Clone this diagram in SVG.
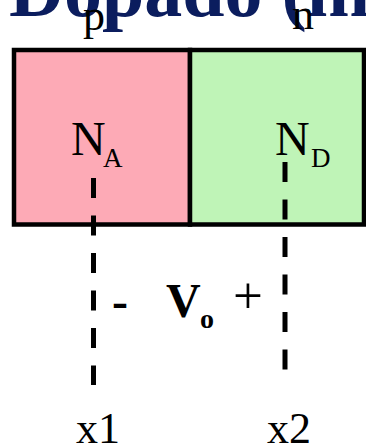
<svg xmlns="http://www.w3.org/2000/svg" width="366" height="448" viewBox="0 0 366 448">
<style>
.t{font-family:"Liberation Serif","Times New Roman",serif;fill:#000}
.b{font-weight:bold}
.dash{stroke:#000;stroke-width:5;stroke-dasharray:20 17.5;fill:none}
.box{stroke:#000;stroke-width:4.5}
</style>
<rect width="366" height="448" fill="#fff"/>
<g id="title">
<text class="t b" x="9" y="16" font-size="76" style="fill:#0b1d5e">Dopado (m</text>
</g>
<g id="p-region">
<rect class="box" x="14" y="50" width="176" height="174.5" fill="#fdaab6"/>
<text class="t" x="83" y="30" font-size="44">p</text>
<text class="t" x="71" y="155" font-size="48">N</text>
<text class="t" x="103" y="167" font-size="27">A</text>
</g>
<g id="n-region">
<rect class="box" x="190" y="50" width="174" height="174.5" fill="#bff4b7"/>
<text class="t" x="292" y="29" font-size="44">n</text>
<text class="t" x="275" y="155" font-size="48">N</text>
<text class="t" x="311" y="167" font-size="27">D</text>
</g>
<g id="connectors">
<line class="dash" x1="93.5" y1="178" x2="93.5" y2="385"/>
<line class="dash" x1="285" y1="162" x2="285" y2="370"/>
</g>
<g id="voltage">
<text class="t b" x="112" y="317" font-size="48">-</text>
<text class="t b" x="166" y="317" font-size="48">V</text>
<text class="t b" x="200" y="328" font-size="28">o</text>
<text class="t" x="233" y="313" font-size="53">+</text>
</g>
<g id="x1"><text class="t" x="76" y="443" font-size="44">x1</text></g>
<g id="x2"><text class="t" x="267" y="443" font-size="44">x2</text></g>
</svg>
